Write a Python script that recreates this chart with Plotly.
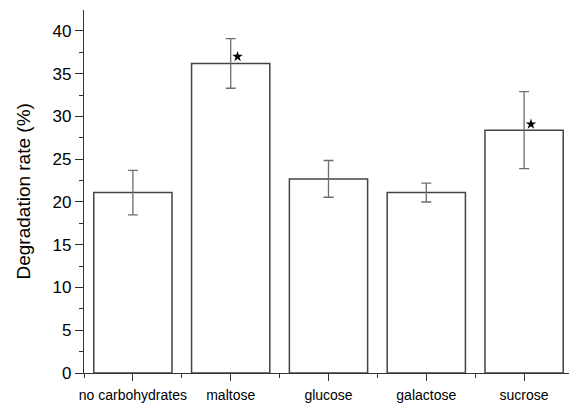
import plotly.graph_objects as go

categories = ["no carbohydrates", "maltose", "glucose", "galactose", "sucrose"]
values = [21.1, 36.2, 22.7, 21.1, 28.4]
errors = [2.6, 2.9, 2.15, 1.1, 4.5]
significant = [False, True, False, False, True]
star_values = [37.0, 29.1]

xs = list(range(len(categories)))
star_x = [i + 0.07 for i, s in zip(xs, significant) if s]

fig = go.Figure()
fig.add_trace(go.Bar(
    x=xs, y=values, width=0.8,
    marker=dict(color="white", line=dict(color="#444444", width=1.5)),
    error_y=dict(type="data", array=errors, visible=True, color="#6e6e6e",
                 thickness=1.3, width=5),
    showlegend=False,
))
fig.add_trace(go.Scatter(
    x=star_x, y=star_values, mode="markers",
    marker=dict(symbol="star", size=8, color="black"),
    showlegend=False, hoverinfo="skip",
))

# page body has an 8px margin, so the figure is sized to fit the window
fig.update_layout(
    width=569, height=395,
    margin=dict(l=76, r=4, t=2, b=30),
    plot_bgcolor="white", paper_bgcolor="white",
    font=dict(family="Liberation Sans, Arial, sans-serif", color="black"),
    annotations=[dict(
        text="Degradation rate (%)", textangle=-90, showarrow=False,
        xref="paper", yref="paper", x=0, y=0.5, xshift=-61,
        xanchor="center", yanchor="middle", font=dict(size=19),
    )],
)
fig.update_xaxes(
    range=[-0.5, 4.5], tickmode="array", tickvals=xs, ticktext=categories,
    tickfont=dict(size=14), ticks="outside", ticklen=7, tickcolor="#333",
    ticklabelstandoff=2,
    showline=True, linecolor="#333", linewidth=1.3, showgrid=False, zeroline=False,
    automargin=False,
    minor=dict(ticks="outside", ticklen=4, tick0=0.5, dtick=1, tickcolor="#333", showgrid=False),
)
fig.update_yaxes(
    range=[0, 42.45], tickmode="linear", tick0=0, dtick=5,
    tickfont=dict(size=17), ticks="outside", ticklen=8, tickcolor="#333",
    showline=True, linecolor="#333", linewidth=1.3, showgrid=False, zeroline=False,
    automargin=False,
    minor=dict(ticks="outside", ticklen=4, dtick=2.5, tickcolor="#333", showgrid=False),
)
fig.write_html("out.html")
